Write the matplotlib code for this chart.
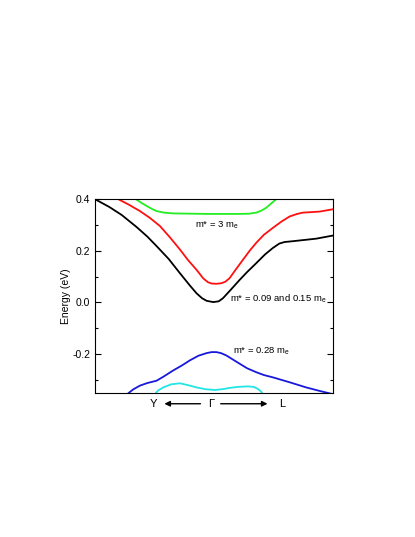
import matplotlib
matplotlib.use("Agg")
import matplotlib.pyplot as plt
from matplotlib.ticker import MultipleLocator

plt.rcParams['font.family'] = ['Liberation Sans', 'DejaVu Sans']
plt.rcParams['mathtext.fontset'] = 'custom'
plt.rcParams['mathtext.rm'] = 'Liberation Sans'
plt.rcParams['mathtext.it'] = 'Liberation Sans:italic'
plt.rcParams['axes.unicode_minus'] = False

# k-path position (0 = left edge, 1 = right edge), energy in eV
black_k = [0.0, 0.06, 0.112, 0.175, 0.22, 0.259, 0.31, 0.357, 0.40, 0.427, 0.45, 0.469, 0.497, 0.52, 0.538, 0.57, 0.608, 0.64, 0.678, 0.715, 0.748, 0.775, 0.797, 0.83, 0.86, 0.93, 1.0]
black_e = [0.40, 0.37, 0.339, 0.292, 0.255, 0.218, 0.168, 0.113, 0.064, 0.035, 0.016, 0.006, 0.001, 0.004, 0.016, 0.048, 0.087, 0.118, 0.152, 0.186, 0.211, 0.228, 0.234, 0.237, 0.240, 0.247, 0.259]

red_k = [0.098, 0.14, 0.189, 0.23, 0.273, 0.315, 0.357, 0.39, 0.427, 0.455, 0.475, 0.49, 0.51, 0.531, 0.548, 0.566, 0.59, 0.622, 0.65, 0.678, 0.71, 0.748, 0.785, 0.818, 0.85, 0.874, 0.944, 1.0]
red_e = [0.40, 0.38, 0.354, 0.328, 0.296, 0.252, 0.205, 0.165, 0.126, 0.093, 0.078, 0.073, 0.072, 0.074, 0.080, 0.094, 0.125, 0.165, 0.200, 0.231, 0.262, 0.289, 0.314, 0.333, 0.343, 0.348, 0.352, 0.361]

green_k = [0.172, 0.195, 0.217, 0.24, 0.259, 0.29, 0.329, 0.40, 0.469, 0.54, 0.608, 0.65, 0.678, 0.70, 0.72, 0.74, 0.762]
green_e = [0.40, 0.386, 0.374, 0.362, 0.354, 0.348, 0.345, 0.344, 0.343, 0.343, 0.343, 0.344, 0.348, 0.356, 0.367, 0.383, 0.40]

blue_k = [0.137, 0.16, 0.189, 0.22, 0.259, 0.29, 0.329, 0.365, 0.399, 0.435, 0.469, 0.49, 0.51, 0.53, 0.552, 0.58, 0.608, 0.64, 0.678, 0.71, 0.748, 0.818, 0.888, 0.95, 1.0]
blue_e = [-0.355, -0.338, -0.323, -0.313, -0.304, -0.287, -0.264, -0.245, -0.225, -0.207, -0.197, -0.193, -0.193, -0.197, -0.206, -0.222, -0.238, -0.256, -0.271, -0.282, -0.291, -0.310, -0.330, -0.345, -0.356]

cyan_k = [0.252, 0.265, 0.287, 0.32, 0.357, 0.39, 0.427, 0.465, 0.503, 0.535, 0.566, 0.60, 0.643, 0.668, 0.685, 0.698, 0.706]
cyan_e = [-0.356, -0.342, -0.330, -0.318, -0.314, -0.321, -0.330, -0.337, -0.340, -0.337, -0.332, -0.328, -0.326, -0.328, -0.336, -0.346, -0.356]

fig = plt.figure(figsize=(4.15, 5.37), dpi=100)
ax = fig.add_axes([0.229, 0.268, 0.573, 0.361])

lw = 1.3
ax.plot(black_k, black_e, color='black', lw=lw)
ax.plot(red_k, red_e, color='#ff1010', lw=lw)
ax.plot(green_k, green_e, color='#22ee22', lw=lw)
ax.plot(blue_k, blue_e, color='#1818dd', lw=lw)
ax.plot(cyan_k, cyan_e, color='#22e6e6', lw=lw)

ax.set_xlim(0, 1)
ax.set_ylim(-0.352, 0.4)
ax.set_xticks([])
ax.yaxis.set_major_locator(MultipleLocator(0.2))
ax.yaxis.set_minor_locator(MultipleLocator(0.1))
ax.set_yticks([-0.2, 0.0, 0.2, 0.4])
ax.set_yticklabels(['-0.2', '0.0', '0.2', '0.4'])
ax.tick_params(axis='y', which='both', direction='in', right=True, labelsize=7.5)
ax.tick_params(axis='y', which='major', length=4, width=0.8)
ax.tick_params(axis='y', which='minor', length=2.5, width=0.8)
ax.set_ylabel('Energy (eV)', fontsize=7.5)
ax.yaxis.set_label_coords(-0.1, 0.5)

fs = 6.8
ax.text(0.42, 0.30, 'm* = 3 m$_\\mathrm{e}$', fontsize=fs, va='center')
ax.text(0.567, 0.012, 'm* = 0.09 and 0.15 m$_\\mathrm{e}$', fontsize=fs, va='center')
ax.text(0.58, -0.19, 'm* = 0.28 m$_\\mathrm{e}$', fontsize=fs, va='center')

# path labels under the axis
ax.text(0.244, -0.055, 'Y', transform=ax.transAxes, fontsize=8, ha='center', va='center')
ax.text(0.487, -0.055, '\u0393', transform=ax.transAxes, fontsize=8, ha='center', va='center')
ax.text(0.785, -0.055, 'L', transform=ax.transAxes, fontsize=8, ha='center', va='center')
arr = dict(arrowstyle='-|>', color='black', lw=1.0, mutation_scale=8)
ax.annotate('', xy=(0.28, -0.055), xytext=(0.455, -0.055), xycoords='axes fraction',
            textcoords='axes fraction', arrowprops=arr, annotation_clip=False)
ax.annotate('', xy=(0.737, -0.055), xytext=(0.517, -0.055), xycoords='axes fraction',
            textcoords='axes fraction', arrowprops=arr, annotation_clip=False)

fig.savefig('out.png', dpi=100)
